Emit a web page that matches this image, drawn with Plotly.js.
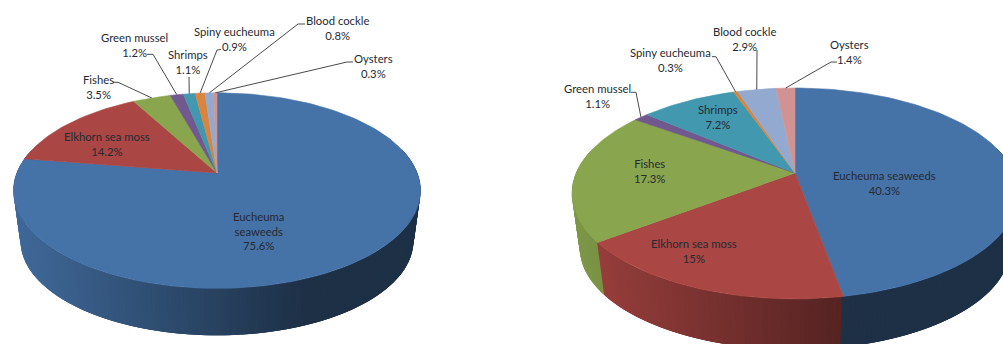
<!DOCTYPE html>
<html>
<head>
<meta charset="utf-8">
<script src="https://cdn.plot.ly/plotly-3.0.1.min.js"></script>
<style>html,body{margin:0;padding:0;background:#fff}#chart{width:1003px;height:344px}</style>
</head>
<body>
<div id="chart"></div>
<script>
// Species shares, listed clockwise from twelve o'clock
const categories = ['Eucheuma seaweeds','Elkhorn sea moss','Fishes','Green mussel','Shrimps','Spiny eucheuma','Blood cockle','Oysters'];
const leftShares = [75.6,14.2,3.5,1.2,1.1,0.9,0.8,0.3];
const rightShares = [40.3,15,17.3,1.1,7.2,0.3,2.9,1.4];
const sliceColors = ['#4572A7','#AA4643','#89A54E','#71588F','#4198AF','#DB843D','#93A9CF','#D19392'];

// Disc geometry in page units; tilt gives the near edge its larger radius
const leftPie = {cx:217, cy:173, a:200.2, b:94.6, tilt:0.18, drop:51, ring:0.965, flat:[],
  names:{0:'Eucheuma<br>seaweeds'},
  labels:[[258,231],[107,144],[98,86.5],[134,44.5],[188,62],[234,39],[337,28],[373,66]],
  elbows:{2:[[113,82.3],[118,82.3]],3:[[147,54.3],[153,54.3]],4:[[189,77]],5:[[221,49.5],[217,50]],6:[[305,24],[298,24]],7:[[353,62],[347,62]]}};
const rightPie = {cx:795, cy:173, a:218.8, b:101.5, tilt:0.194, drop:55, ring:0.965, flat:[0],
  names:{},
  labels:[[884,182.5],[694,250.5],[649,170.5],[597,95.5],[718,116.5],[670,59.5],[744,38.5],[849,51.5]],
  elbows:{3:[[631,92.3],[636,92.3]],5:[[712,56.7],[716,56.7]],6:[[757,50]],7:[[837,62],[831,62]]}};

const traces = [];
const annotations = [];
const DEG = Math.PI / 180;

function project(p, theta, depth) {
  const X = Math.sin(theta), Y = Math.cos(theta), w = 1 + p.tilt * Y;
  const s = depth ? p.ring : 1;
  return [p.cx + s * p.a * X / w, p.cy + (depth ? p.drop : 0) - s * p.b * Y / w];
}
function shade(hex, m) {
  const n = parseInt(hex.slice(1), 16);
  return `rgb(${Math.round((n >> 16) * m)},${Math.round(((n >> 8) & 255) * m)},${Math.round((n & 255) * m)})`;
}
function polygon(pts, color, lineWidth) {
  traces.push({type:'scatter', mode:'lines', x:pts.map(q => q[0]).concat(pts[0][0]), y:pts.map(q => q[1]).concat(pts[0][1]),
    fill:'toself', fillcolor:color, line:{color:color, width:lineWidth}, hoverinfo:'skip', showlegend:false});
}

function drawPie(p, shares) {
  const total = shares.reduce((s, v) => s + v, 0);
  const edges = [0];
  shares.forEach(v => edges.push(edges[edges.length - 1] + v / total * 2 * Math.PI));
  const halfWidth = p.a / Math.sqrt(1 - p.tilt * p.tilt);
  const wallStart = 285 * DEG, wallEnd = 75 * DEG, step = 1 * DEG;

  // Side wall, painted left to right: each strip runs a little past its neighbour,
  // which then paints over the overlap so no background shows between strips
  for (let t = wallStart; t > wallEnd; t -= step) {
    const mid = t - step / 2;
    const i = edges.findIndex((e, k) => k < shares.length && mid >= e && mid < edges[k + 1]);
    const stop = Math.max(wallEnd, t - 3 * step);
    const upper = [], lower = [];
    for (let u = t; u > stop - 1e-9; u -= step) {
      upper.push(project(p, u, false));
      lower.unshift(project(p, u, true));
    }
    const nx = (project(p, mid, false)[0] - (p.cx - halfWidth)) / (2 * halfWidth);
    const m = p.flat.includes(i) ? 0.42 : 0.92 - 0.5 * Math.min(1, nx / 0.72);
    polygon(upper.concat(lower), shade(sliceColors[i], m), 0);
  }

  // Top face
  shares.forEach((v, i) => {
    const n = Math.max(2, Math.ceil((edges[i + 1] - edges[i]) / (1.5 * DEG)));
    const pts = [[p.cx, p.cy]];
    for (let j = 0; j <= n; j++) pts.push(project(p, edges[i] + (edges[i + 1] - edges[i]) * j / n, false));
    polygon(pts, sliceColors[i], 0.6);
  });

  // Labels and their leader lines
  shares.forEach((v, i) => {
    const name = p.names[i] || categories[i];
    annotations.push({xref:'x', yref:'y', x:p.labels[i][0], y:p.labels[i][1], text:`${name}<br>${v}%`,
      showarrow:false, xanchor:'center', yanchor:'middle', align:'center',
      font:{family:'Lato, sans-serif', size:11.3, color:'#262b33'}});
    if (p.elbows[i]) {
      const rim = project(p, (edges[i] + edges[i + 1]) / 2, false);
      const run = p.elbows[i].concat([rim]);
      traces.push({type:'scatter', mode:'lines', x:run.map(q => q[0]), y:run.map(q => q[1]),
        line:{color:'#4a4a4a', width:1}, hoverinfo:'skip', showlegend:false});
    }
  });
}

drawPie(leftPie, leftShares);
drawPie(rightPie, rightShares);

const layout = {
  width:1003, height:344, margin:{l:0, r:0, t:0, b:0}, showlegend:false,
  paper_bgcolor:'#fff', plot_bgcolor:'#fff',
  xaxis:{range:[0,1003], visible:false, fixedrange:true},
  yaxis:{range:[344,0], visible:false, fixedrange:true},
  annotations
};
Plotly.newPlot('chart', traces, layout, {displayModeBar:false, staticPlot:true});
</script>
</body>
</html>
